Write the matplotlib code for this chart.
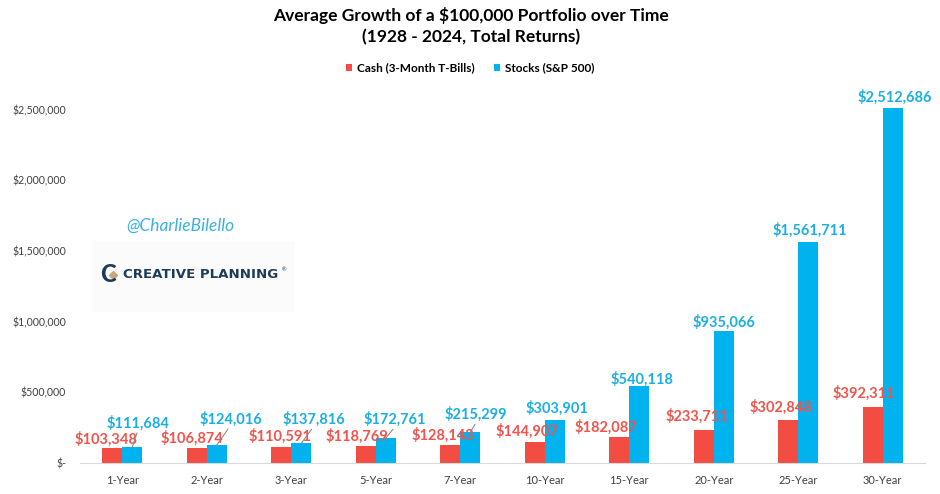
import matplotlib.pyplot as plt
import matplotlib.patches as mpatches
import matplotlib.lines as mlines
import numpy as np

periods = ['1-Year', '2-Year', '3-Year', '5-Year', '7-Year',
           '10-Year', '15-Year', '20-Year', '25-Year', '30-Year']
cash = [103348, 106874, 110591, 118769, 128143,
        144907, 182087, 233711, 302848, 392311]
stocks = [111684, 124016, 137816, 172761, 215299,
          303901, 540118, 935066, 1561711, 2512686]
yticks = [0, 500000, 1000000, 1500000, 2000000, 2500000]

# label offsets in pixels (from the top of each bar)
cash_dx = [-6, -5, -1, -9, -7, -8, -13, -7, -7, -9]
cash_dy = [9, 9, 11, 10, 9, 11, 10, 13, 13, 14]
stock_dx = [6, 14, 13, 9, 6, 2, 3, 0, 2, 2]
stock_dy = [24, 26, 24, 19, 18, 12, 7, 8, 12, 10]
leader = [True, True, True, True, True, False, False, False, False, False]

RED = '#F24C43'
BLUE = '#00B2EE'
RED_TXT = '#F0544C'
BLUE_TXT = '#1BAEE5'
NAVY = '#1D3C5A'

plt.rcParams['font.family'] = ['Lato', 'DejaVu Sans']

fig = plt.figure(figsize=(9.4, 4.94), dpi=100)
ax = fig.add_axes([80 / 940, 31.3 / 494, 845 / 940, 388.6 / 494])

x = np.arange(len(periods))
w = 20 / 84.5
ax.bar(x - w / 2, cash, w, color=RED, label='Cash (3-Month T-Bills)')
ax.bar(x + w / 2, stocks, w, color=BLUE, label='Stocks (S&P 500)')

for i in range(len(periods)):
    ax.annotate(f'${cash[i]:,}', xy=(x[i] - w / 2, cash[i]),
                xytext=(cash_dx[i], cash_dy[i]), textcoords='offset pixels',
                ha='center', va='center', fontsize=10.5, fontweight='bold',
                color=RED_TXT, zorder=4)
    ax.annotate(f'${stocks[i]:,}', xy=(x[i] + w / 2, stocks[i]),
                xytext=(stock_dx[i], stock_dy[i]), textcoords='offset pixels',
                ha='center', va='center', fontsize=10.5, fontweight='bold',
                color=BLUE_TXT, zorder=4)
    if leader[i]:
        # short grey leader line from bar top toward the label
        ax.annotate('', xy=(x[i] + w / 2, stocks[i]),
                    xytext=(stock_dx[i] * 0.8, stock_dy[i] - 10),
                    textcoords='offset pixels',
                    arrowprops=dict(arrowstyle='-', color='#8C8C8C', lw=0.8,
                                    shrinkA=0, shrinkB=0), zorder=5)

ax.set_xlim(-0.5, len(periods) - 0.5)
ax.set_ylim(0, 2750000)
ax.set_xticks(x)
ax.set_xticklabels(periods)
ax.set_yticks(yticks)
ax.set_yticklabels(['$-' if v == 0 else f'${v:,}' for v in yticks])
ax.tick_params(axis='both', length=0, labelsize=8, labelcolor='#404040')
ax.tick_params(axis='x', pad=9)
ax.tick_params(axis='y', labelsize=7.6, pad=10)
for s in ['top', 'right', 'left']:
    ax.spines[s].set_visible(False)
ax.spines['bottom'].set_color('#D9D9D9')

fig.text(0.501, 1 - 15 / 494, 'Average Growth of a $100,000 Portfolio over Time',
         ha='center', va='center', fontsize=12.5, fontweight='bold', color='black')
fig.text(0.501, 1 - 37 / 494, '(1928 - 2024, Total Returns)',
         ha='center', va='center', fontsize=12.5, fontweight='bold', color='black')

fig.legend(loc='center', bbox_to_anchor=(0.5, 1 - 68 / 494), ncol=2, frameon=False,
           handlelength=0.55, handleheight=0.55, handletextpad=0.4, columnspacing=1.6,
           prop={'size': 8.5, 'weight': 'bold'})

# watermark + logo
fig.text(180 / 940, 1 - 226 / 494, '@CharlieBilello', ha='center', va='center',
         fontsize=12.5, style='italic', color='#3AB0E2')
fig.patches.append(mpatches.Rectangle((93 / 940, 1 - 311 / 494), 200 / 940, 70 / 494,
                                      transform=fig.transFigure, color='#FBFBFB',
                                      zorder=0))
fig.text(108 / 940, 1 - 275 / 494, 'C', ha='center', va='center', fontsize=17,
         fontweight='black', color=NAVY)
fig.add_artist(mlines.Line2D([113 / 940], [1 - 275 / 494], marker='D', markersize=4.5,
                             color='#C9A77C', transform=fig.transFigure))
fig.text(123 / 940, 1 - 275 / 494, 'CREATIVE PLANNING', ha='left', va='center',
         fontsize=9.6, fontweight='bold', color=NAVY, family='DejaVu Sans')
fig.text(282 / 940, 1 - 270 / 494, '\u00AE', ha='left', va='center', fontsize=4,
         color=NAVY)

fig.savefig('out.png', dpi=100)
